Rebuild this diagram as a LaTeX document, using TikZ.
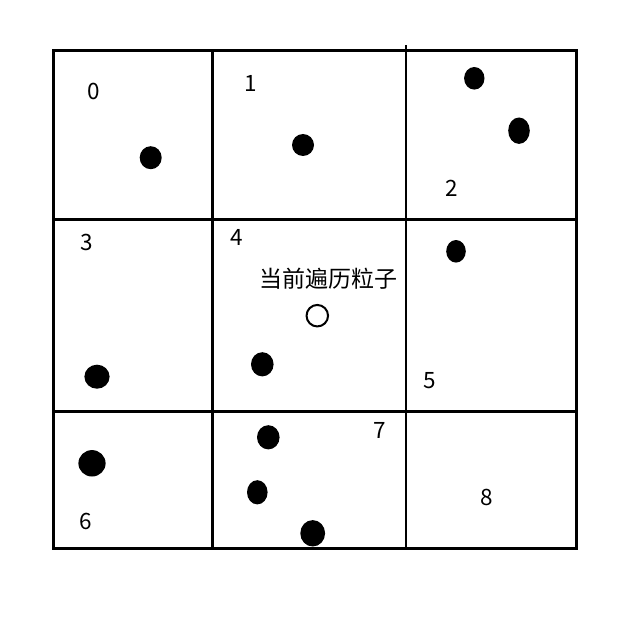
\documentclass[tikz,border=0pt]{standalone}
\usepackage{fontspec}
\setmainfont{Noto Sans CJK SC}
\newfontfamily\cjk{Noto Sans CJK SC}
\begin{document}
\begin{tikzpicture}[x=1pt,y=-1pt,
  gridline/.style={line width=2.5pt,line cap=rect},
  lbl/.style={inner sep=0pt,font=\fontsize{22.5}{26}\selectfont},
  particle/.style={fill=black}]
\useasboundingbox (0,0) rectangle (643,623);
% grid
\draw[gridline] (53.5,50.5) -- (576.5,50.5);
\draw[gridline] (53.5,219.5) -- (576.5,219.5);
\draw[gridline] (53.5,411.5) -- (576.5,411.5);
\draw[gridline] (53.5,548.5) -- (576.5,548.5);
\draw[gridline] (53.5,50.5) -- (53.5,548.5);
\draw[gridline] (212.5,50.5) -- (212.5,548.5);
\draw[gridline] (406,46) -- (406,548.5);
\draw[gridline] (576.5,50.5) -- (576.5,548.5);
% labels
\node[lbl] (l0) at (94,91) {0};
\node[lbl] (l1) at (251,83) {1};
\node[lbl] (l2) at (452,188) {2};
\node[lbl] (l3) at (87,242) {3};
\node[lbl] (l4) at (237,237) {4};
\node[lbl] (l5) at (430,381) {5};
\node[lbl] (l6) at (86,521) {6};
\node[lbl] (l7) at (380,430) {7};
\node[lbl] (l8) at (487,497) {8};
\node[inner sep=0pt,font=\cjk\fontsize{23}{26}\selectfont] (cur) at (328,279) {当前遍历粒子};
% particles
\fill[particle] (150.7,157.7) ellipse [x radius=11pt,y radius=11.5pt];
\fill[particle] (303,145) ellipse [x radius=11pt,y radius=11pt];
\fill[particle] (474.3,78.3) ellipse [x radius=10.2pt,y radius=11.3pt];
\fill[particle] (519,130.7) ellipse [x radius=10.8pt,y radius=13.2pt];
\fill[particle] (97,376.7) ellipse [x radius=12.6pt,y radius=12pt];
\fill[particle] (262.3,364.3) ellipse [x radius=11.3pt,y radius=12.1pt];
\fill[particle] (456,251.3) ellipse [x radius=9.8pt,y radius=11.3pt];
\fill[particle] (92,463.3) ellipse [x radius=13.6pt,y radius=13.2pt];
\fill[particle] (268.3,437.3) ellipse [x radius=11.3pt,y radius=12.1pt];
\fill[particle] (257.3,492.3) ellipse [x radius=10.3pt,y radius=12.1pt];
\fill[particle] (312.7,533.3) ellipse [x radius=12.4pt,y radius=13.2pt];
% current particle
\node[circle,draw=black,line width=2pt,minimum size=21.5pt,inner sep=0pt] (p) at (317.3,315.7) {};
\end{tikzpicture}
\end{document}
